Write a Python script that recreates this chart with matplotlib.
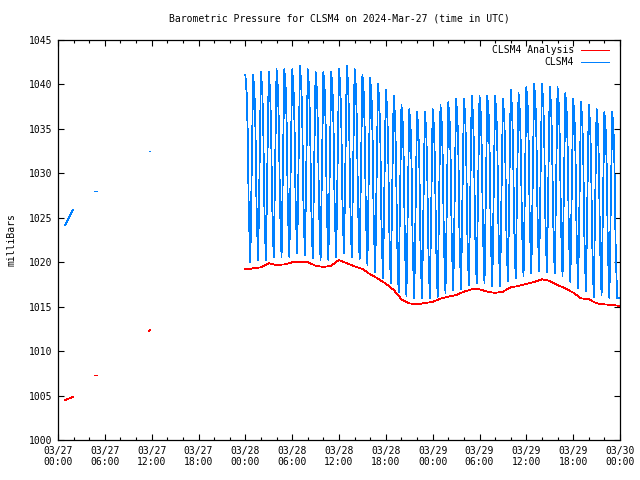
import numpy as np
import matplotlib.pyplot as plt
from matplotlib.ticker import MultipleLocator

plt.rcParams["font.family"] = ["DejaVu Sans Mono"]
plt.rcParams["lines.antialiased"] = False

# x axis: hours since 2024-03-27 00:00 UTC
tick_hours = [0, 6, 12, 18, 24, 30, 36, 42, 48, 54, 60, 66, 72]
tick_labels = ["03/27\n00:00", "03/27\n06:00", "03/27\n12:00", "03/27\n18:00",
               "03/28\n00:00", "03/28\n06:00", "03/28\n12:00", "03/28\n18:00",
               "03/29\n00:00", "03/29\n06:00", "03/29\n12:00", "03/29\n18:00",
               "03/30\n00:00"]

# sparse early pieces on 03/27
early_hours = [[0.95, 1.9], [4.65, 5.0], [11.65, 11.75]]
early_obs = [[1024.2, 1025.9], [1028.0, 1028.0], [1032.5, 1032.5]]
early_ana = [[1004.5, 1004.85], [1007.3, 1007.3], [1012.3, 1012.35]]

# hourly analysis, 03/28 00:00 .. 03/30 00:00
ana_hours = list(range(24, 73))
ana_vals = [1019.20, 1019.31, 1019.43, 1019.88, 1019.69, 1019.76, 1019.99, 1019.99,
            1019.99, 1019.61, 1019.46, 1019.61, 1020.25, 1019.88, 1019.54, 1019.24,
            1018.64, 1018.15, 1017.59, 1016.88, 1015.83, 1015.38, 1015.26, 1015.41,
            1015.53, 1015.90, 1016.13, 1016.31, 1016.69, 1016.95, 1016.95, 1016.69,
            1016.55, 1016.69, 1017.18, 1017.33, 1017.55, 1017.78, 1018.08, 1017.89,
            1017.44, 1017.06, 1016.58, 1015.94, 1015.83, 1015.38, 1015.26, 1015.19,
            1015.08]

# CLSM4 series: one sawtooth per hour (start hour 24 .. 71)
cycle_hours = list(range(24, 72))
cycle_peaks = [1041.1, 1041.1, 1041.4, 1041.4, 1041.7, 1041.7, 1041.7, 1042.1,
               1041.7, 1041.4, 1041.4, 1041.4, 1041.7, 1042.1, 1041.7, 1041.1,
               1040.7, 1040.1, 1039.4, 1038.7, 1037.7, 1037.2, 1036.9, 1036.9,
               1037.2, 1037.7, 1038.0, 1038.4, 1038.4, 1038.7, 1038.7, 1038.7,
               1038.7, 1038.4, 1039.4, 1039.0, 1039.7, 1040.1, 1040.1, 1039.7,
               1039.7, 1039.0, 1038.4, 1038.0, 1037.7, 1037.2, 1036.9, 1036.9]
cycle_troughs = [1020.0, 1020.25, 1020.25, 1020.6, 1020.6, 1020.6, 1021.0, 1020.8,
                 1020.4, 1020.25, 1020.25, 1020.6, 1021.0, 1020.6, 1020.35, 1019.7,
                 1018.9, 1018.2, 1017.6, 1016.6, 1016.2, 1015.9, 1015.9, 1016.0,
                 1016.1, 1016.5, 1016.8, 1017.0, 1017.4, 1017.6, 1017.6, 1017.25,
                 1017.25, 1017.9, 1018.2, 1018.4, 1018.75, 1019.0, 1018.9, 1018.75,
                 1018.4, 1017.8, 1017.06, 1016.7, 1016.1, 1016.3, 1016.0, 1016.0]
# shape of one cycle within the hour (time offset, fraction of peak-trough range)
cycle_t = [0.0, 0.17, 0.3, 0.43, 0.56, 0.64, 0.77]
cycle_frac = [1.0, 0.9, 0.7, 0.3, 0.1, 0.0, 0.35]

RED = "#ff0000"
BLUE = "#0080ff"

obs_t, obs_v = [], []
for i, h in enumerate(cycle_hours):
    pk, tr = cycle_peaks[i], cycle_troughs[i]
    n = len(cycle_t) if i < len(cycle_hours) - 1 else len(cycle_t) - 1
    for dt, f in zip(cycle_t[:n], cycle_frac[:n]):
        obs_t.append(h + dt)
        obs_v.append(tr + f * (pk - tr))
obs_t.append(72.0)
obs_v.append(cycle_troughs[-1])

fig = plt.figure(figsize=(6.4, 4.8), dpi=100)
ax = fig.add_axes([58 / 640, 40 / 480, 562 / 640, 400 / 480])

ax.plot(ana_hours, ana_vals, color=RED, lw=0.55)
ax.plot(obs_t, obs_v, color=BLUE, lw=0.55)
for hh, a, o in zip(early_hours, early_ana, early_obs):
    ax.plot(hh, a, color=RED, lw=0.55)
    ax.plot(hh, o, color=BLUE, lw=0.55)

ax.set_xlim(0, 72)
ax.set_ylim(1000, 1045)
ax.set_xticks(tick_hours)
ax.set_xticklabels(tick_labels)
ax.xaxis.set_minor_locator(MultipleLocator(2))
ax.yaxis.set_major_locator(MultipleLocator(5))
ax.tick_params(which="both", direction="in", top=True, right=True,
               labelsize=7, width=0.8, colors="black")
ax.tick_params(which="major", length=4.5, pad=4)
ax.tick_params(which="minor", length=2.2)
for s in ax.spines.values():
    s.set_linewidth(0.9)

ax.set_title("Barometric Pressure for CLSM4 on 2024-Mar-27 (time in UTC)",
             fontsize=7, pad=13)
fig.text(12 / 640, 0.5, "milliBars", rotation=90, fontsize=7,
         ha="center", va="center")

# gnuplot-style key: right-aligned text, sample line to the right
for label, col, yk in [("CLSM4 Analysis", RED, 0.975), ("CLSM4", BLUE, 0.944)]:
    ax.text(0.918, yk, label, transform=ax.transAxes, ha="right", va="center",
            fontsize=7)
    ax.plot([0.9306, 0.9804], [yk, yk], transform=ax.transAxes, color=col,
            lw=0.55, clip_on=False)

fig.savefig("out.png", dpi=100)
